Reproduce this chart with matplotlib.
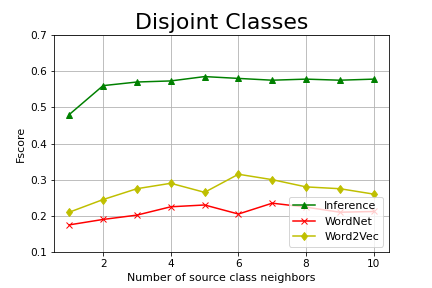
import matplotlib
matplotlib.use("Agg")
import matplotlib.pyplot as plt

neighbors = [1, 2, 3, 4, 5, 6, 7, 8, 9, 10]
inference = [0.48, 0.56, 0.57, 0.573, 0.585, 0.58, 0.575, 0.578, 0.575, 0.578]
wordnet = [0.175, 0.19, 0.202, 0.225, 0.23, 0.205, 0.235, 0.224, 0.21, 0.212]
word2vec = [0.21, 0.245, 0.275, 0.29, 0.265, 0.315, 0.3, 0.28, 0.275, 0.26]

fig = plt.figure(figsize=(6, 4), dpi=72)
ax = fig.add_axes([54/432, 1-252/288, (389-54)/432, (252-35)/288])
ax.plot(neighbors, inference, 'g^-', label='Inference')
ax.plot(neighbors, wordnet, 'rx-', label='WordNet')
ax.plot(neighbors, word2vec, 'yd-', label='Word2Vec')
ax.set_ylim(0.1, 0.7)
ax.set_xticks([2, 4, 6, 8, 10])
ax.tick_params(labelsize=10.5)
ax.grid(True)
ax.set_title('Disjoint Classes', fontsize=22)
ax.set_xlabel('Number of source class neighbors', fontsize=11)
ax.set_ylabel('Fscore', fontsize=11)
ax.legend(loc='lower right', fontsize=11)
fig.savefig('out.png', dpi=72)
